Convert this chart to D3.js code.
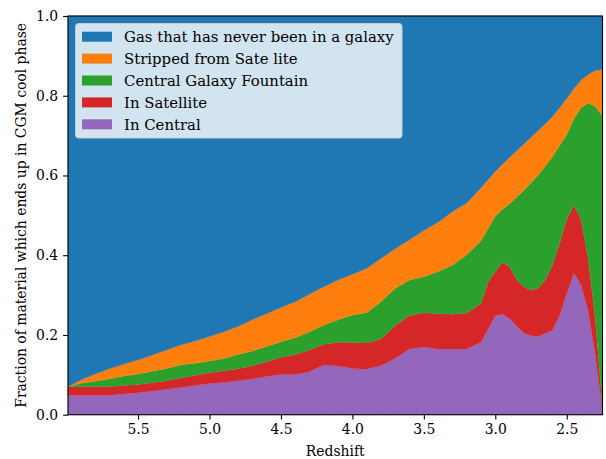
<!DOCTYPE html>
<html>
<head>
<meta charset="utf-8">
<script src="https://cdn.jsdelivr.net/npm/d3@7"></script>
<style>
  body { margin: 0; background: #fff; }
</style>
</head>
<body>
<svg id="chart" width="606" height="459"></svg>
<script>
// redshift of each snapshot
var redshift = [5.99, 5.9, 5.8, 5.7, 5.6, 5.5, 5.4, 5.3, 5.2, 5.1, 5.0, 4.9, 4.8, 4.7, 4.6, 4.5,
  4.4, 4.3, 4.2, 4.1, 4.0, 3.9, 3.8, 3.7, 3.6, 3.5, 3.4, 3.3, 3.2, 3.1, 3.05, 3.0, 2.95, 2.9,
  2.85, 2.8, 2.75, 2.7, 2.65, 2.6, 2.55, 2.5, 2.45, 2.4, 2.35, 2.3, 2.25]

var inCentral = [.048, .049, .049, .049, .052, .055, .059, .064, .068, .073, .078, .081, .085, .090, .096, .101,
  .101, .108, .125, .122, .116, .114, .123, .141, .165, .170, .165, .165, .165, .182, .215, .249, .252, .241,
  .222, .204, .198, .196, .204, .212, .250, .304, .355, .325, .260, .150, .010]
var inSatellite = [.022, .021, .021, .022, .021, .021, .021, .021, .024, .026, .027, .029, .030, .033, .037, .043,
  .050, .054, .052, .060, .065, .066, .067, .083, .084, .086, .088, .087, .090, .097, .118, .110, .130, .130,
  .116, .117, .114, .122, .134, .163, .180, .186, .170, .165, .130, .090, .005]
var fountain = [.000, .009, .014, .019, .024, .026, .029, .031, .033, .030, .030, .031, .036, .037, .038, .039,
  .042, .046, .048, .056, .069, .076, .093, .093, .089, .090, .106, .123, .146, .157, .134, .139, .133, .158,
  .208, .242, .270, .283, .286, .272, .245, .213, .217, .280, .392, .533, .735]
var stripped = [.000, .008, .018, .025, .030, .035, .041, .046, .050, .056, .061, .067, .070, .078, .082, .086,
  .090, .094, .096, .100, .102, .111, .109, .099, .101, .116, .124, .134, .130, .133, .123, .112, .113, .116,
  .116, .116, .114, .112, .106, .101, .095, .090, .076, .069, .071, .090, .116]
var neverInGalaxy = [.930, .913, .898, .885, .873, .863, .850, .838, .825, .815, .804, .792, .779, .762, .747, .731,
  .717, .698, .679, .662, .648, .633, .608, .584, .561, .538, .517, .491, .469, .431, .410, .390, .372, .355,
  .338, .321, .304, .287, .270, .252, .230, .207, .182, .161, .147, .137, .134]

var seriesNames = ["In Central", "In Satellite", "Central Galaxy Fountain", "Stripped from Sate lite",
  "Gas that has never been in a galaxy"]
var seriesColors = ["#9467bd", "#d62728", "#2ca02c", "#ff7f0e", "#1f77b4"]
var seriesValues = [inCentral, inSatellite, fountain, stripped, neverInGalaxy]

var xTicks = [5.5, 5.0, 4.5, 4.0, 3.5, 3.0, 2.5]
var yTicks = [0, 0.2, 0.4, 0.6, 0.8, 1.0]

var FONT = "'DejaVu Serif', serif"
var margin = {left: 68, right: 3.5, top: 16, bottom: 44.3}
var width = 606, height = 459

var svg = d3.select("#chart")

var x = d3.scaleLinear()
  .domain([d3.max(redshift), d3.min(redshift)])
  .range([margin.left, width - margin.right])
var y = d3.scaleLinear()
  .domain([0, 1])
  .range([height - margin.bottom, margin.top])

// one row per snapshot for d3.stack
var rows = redshift.map(function (z, i) {
  var r = {z: z}
  seriesNames.forEach(function (name, k) { r[name] = seriesValues[k][i] })
  return r
})

var stacked = d3.stack().keys(seriesNames)(rows)

var area = d3.area()
  .x(function (d) { return x(d.data.z) })
  .y0(function (d) { return y(d[0]) })
  .y1(function (d) { return y(d[1]) })

svg.append("g")
  .selectAll("path")
  .data(stacked)
  .enter()
  .append("path")
  .attr("d", area)
  .attr("fill", function (d, i) { return seriesColors[i] })
  .attr("stroke", function (d, i) { return seriesColors[i] })
  .attr("stroke-width", 0.3)

// axes
var xAxis = svg.append("g")
  .attr("transform", "translate(0," + y(0) + ")")
  .call(d3.axisBottom(x).tickValues(xTicks).tickFormat(d3.format(".1f")).tickSize(4.9).tickPadding(4.9))
var yAxis = svg.append("g")
  .attr("transform", "translate(" + margin.left + ",0)")
  .call(d3.axisLeft(y).tickValues(yTicks).tickFormat(d3.format(".1f")).tickSize(4.9).tickPadding(4.9))

;[xAxis, yAxis].forEach(function (g) {
  g.select(".domain").remove()
  g.selectAll("line").attr("stroke", "#000").attr("stroke-width", 1.1)
  g.selectAll("text").style("font-family", FONT).style("font-size", "13.9px").attr("fill", "#000")
})

// frame
svg.append("rect")
  .attr("x", x.range()[0])
  .attr("y", y.range()[1])
  .attr("width", x.range()[1] - x.range()[0])
  .attr("height", y.range()[0] - y.range()[1])
  .attr("fill", "none")
  .attr("stroke", "#000")
  .attr("stroke-width", 1.1)

svg.append("text")
  .attr("x", (x.range()[0] + x.range()[1]) / 2)
  .attr("y", 455.5)
  .attr("text-anchor", "middle")
  .style("font-family", FONT)
  .style("font-size", "13.9px")
  .text("Redshift")

svg.append("text")
  .attr("transform", "translate(26," + (y.range()[0] + y.range()[1]) / 2 + ") rotate(-90)")
  .attr("text-anchor", "middle")
  .style("font-family", FONT)
  .style("font-size", "13.9px")
  .text("Fraction of material which ends up in CGM cool phase")

// legend, top entry is the top layer
var legend = svg.append("g").attr("transform", "translate(75.5,23.5)")
legend.append("rect")
  .attr("width", 326.5)
  .attr("height", 114.5)
  .attr("rx", 3)
  .attr("fill", "#fff")
  .attr("fill-opacity", 0.8)
  .attr("stroke", "#ccc")
  .attr("stroke-width", 1)

var legendOrder = d3.range(seriesNames.length).reverse()
var item = legend.selectAll("g.item")
  .data(legendOrder)
  .enter()
  .append("g")
  .attr("class", "item")
  .attr("transform", function (k, i) { return "translate(0," + (13.2 + i * 21.9) + ")" })

item.append("rect")
  .attr("x", 6.5)
  .attr("y", -5)
  .attr("width", 30)
  .attr("height", 10)
  .attr("fill", function (k) { return seriesColors[k] })

item.append("text")
  .attr("x", 48.5)
  .attr("y", 5.4)
  .style("font-family", FONT)
  .style("font-size", "14.9px")
  .text(function (k) { return seriesNames[k] })
</script>
</body>
</html>
